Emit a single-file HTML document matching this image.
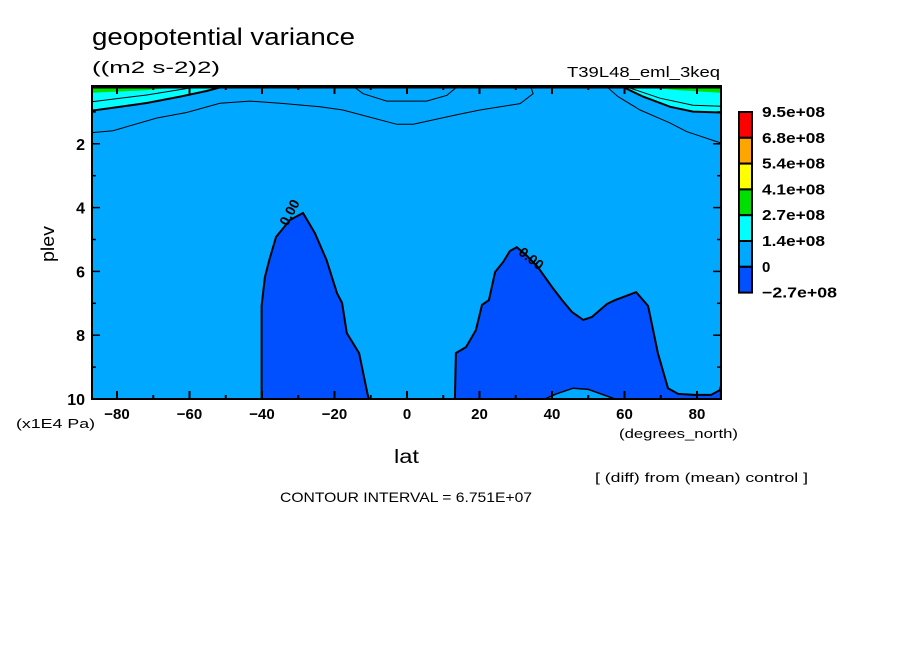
<!DOCTYPE html>
<html><head><meta charset="utf-8"><style>
body{margin:0;background:#fff;width:904px;height:654px;overflow:hidden}
svg text{font-family:"Liberation Sans",sans-serif;fill:#000}
</style></head><body>
<svg id="c" width="904" height="654" xmlns="http://www.w3.org/2000/svg">
<text x="92" y="45" font-size="24" textLength="263" lengthAdjust="spacingAndGlyphs">geopotential variance</text>
<text x="92" y="73" font-size="17" textLength="128" lengthAdjust="spacingAndGlyphs">((m2 s-2)2)</text>
<text x="567" y="77" font-size="15" textLength="153" lengthAdjust="spacingAndGlyphs">T39L48_eml_3keq</text>
<text x="0" y="0" font-size="18" textLength="36" lengthAdjust="spacingAndGlyphs" transform="translate(54,262) rotate(-90)">plev</text>
<text x="16" y="428" font-size="13" textLength="79" lengthAdjust="spacingAndGlyphs">(x1E4 Pa)</text>
<text x="394" y="463" font-size="19" textLength="25" lengthAdjust="spacingAndGlyphs">lat</text>
<text x="619" y="438" font-size="13" textLength="119" lengthAdjust="spacingAndGlyphs">(degrees_north)</text>
<text x="595" y="482" font-size="13" textLength="213" lengthAdjust="spacingAndGlyphs">[ (diff) from (mean) control ]</text>
<text x="280" y="502" font-size="14" textLength="252" lengthAdjust="spacingAndGlyphs">CONTOUR INTERVAL = 6.751E+07</text>
<g id="plot"></g>
<g id="legend"></g>
</svg>
<script>
const NS='http://www.w3.org/2000/svg';
const xTicks=[-80,-60,-40,-20,0,20,40,60,80];
const yTicks=[2,4,6,8,10];
const legendLabels=['9.5e+08','6.8e+08','5.4e+08','4.1e+08','2.7e+08','1.4e+08','0','-2.7e+08'];
const legendColors=['#ff0000','#ffa500','#ffff00','#00e000','#00ffff','#00a8ff','#0050ff'];
const cyanLeft=[[-86.9,0.19],[-50.8,0.19],[-50.8,0.21],[-55.3,0.345],[-62.6,0.52],[-71.8,0.72],[-81.1,0.87],[-86.9,0.96]];
const cyanRight=[[59.6,0.19],[86.6,0.19],[86.6,1.02],[78.9,0.99],[72.6,0.84],[65.1,0.52],[59.6,0.22]];
const greenLeft=[[-86.9,0.19],[-60,0.19],[-72,0.32],[-86.9,0.4]];
const greenRight=[[62,0.19],[86.6,0.19],[86.6,0.4],[75,0.32]];
const lineLow=[[-86.9,1.65],[-81.1,1.59],[-69.0,1.19],[-60.8,1.02],[-51.6,0.73],[-43.3,0.66],[-35.0,0.73],[-24.0,0.84],[-17.7,0.94],[-12.1,1.11],[-2.8,1.39],[1.7,1.39],[13.7,1.09],[20.1,0.94],[31.2,0.74],[34.8,0.43],[34.4,0.29],[33.9,0.19]];
const lineMid=[[-14.9,0.19],[-12.1,0.43],[-5.6,0.66],[5.4,0.66],[11.0,0.48],[13.2,0.27],[13.8,0.19]];
const lineRight=[[55.1,0.19],[55.1,0.21],[58.2,0.52],[64.3,0.94],[72.6,1.35],[77.2,1.62],[85.4,1.93],[86.6,1.97]];
const lineCyanL=[[-86.9,0.68],[-71.8,0.47],[-59.9,0.25],[-57.1,0.19]];
const lineCyanR=[[61.5,0.25],[69.8,0.57],[78.9,0.79],[86.6,0.82]];
const blobLeft=[[-40.1,10],[-40.1,9.25],[-40.1,7.08],[-39.2,6.18],[-38.0,5.64],[-36.1,4.92],[-32.3,4.39],[-28.7,4.17],[-25.4,4.80],[-22.2,5.64],[-19.3,6.68],[-17.9,6.99],[-16.6,7.93],[-13.2,8.56],[-10.7,9.94],[-10.5,10]];
const blobRight=[[13.2,10],[13.5,8.56],[16.3,8.37],[19.0,7.84],[20.7,7.05],[22.6,6.9],[24.3,6.02],[26.5,5.71],[28.4,5.36],[30.3,5.24],[33,5.5],[36,5.85],[40.0,6.49],[42.8,6.9],[45.5,7.27],[48.6,7.52],[51.0,7.43],[55.2,7.02],[57.4,6.9],[63.2,6.65],[66.5,7.08],[69.2,8.56],[72.0,9.66],[74.8,9.84],[79.2,9.87],[83.9,9.87],[86.3,9.72],[86.6,9.6],[86.6,10]];
const bump=[[38,10],[41,9.85],[45.8,9.66],[50,9.7],[57.4,10]];
const X=l=>407+l*3.625, Y=p=>399-(10-p)*31.9;
const L=92,R=721,T=86,B=399;
const plot=document.getElementById('plot');
function el(t,a,parent){const e=document.createElementNS(NS,t);for(const k in a)e.setAttribute(k,a[k]);(parent||plot).appendChild(e);return e;}
const pts=a=>a.map(d=>X(d[0]).toFixed(1)+','+Y(d[1]).toFixed(1)).join(' ');
let e;
e=el('rect',{x:L,y:T,width:R-L,height:B-T,fill:'#00a8ff'});


e=el('polygon',{points:pts(cyanLeft),fill:'#00ffff'});


e=el('polygon',{points:pts(cyanRight),fill:'#00ffff'});


e=el('polygon',{points:pts(greenLeft),fill:'#00e000'});


e=el('polygon',{points:pts(greenRight),fill:'#00e000'});


e=el('polygon',{points:pts(blobLeft),fill:'#0050ff',stroke:'#000','stroke-width':2});


e=el('polygon',{points:pts(blobRight),fill:'#0050ff',stroke:'#000','stroke-width':2});


e=el('polygon',{points:pts(bump),fill:'#00a8ff',stroke:'#000','stroke-width':1.5});


e=el('polyline',{points:pts(cyanLeft.slice(2)),fill:'none',stroke:'#000','stroke-width':2});


e=el('polyline',{points:pts(cyanRight.slice(2)),fill:'none',stroke:'#000','stroke-width':2});


[[lineLow,'contour-low'],[lineMid,'contour-mid'],[lineRight,'contour-right'],[lineCyanL,'contour-cyan-left'],[lineCyanR,'contour-cyan-right']].forEach(([a,n])=>{
  const p=el('polyline',{points:pts(a),fill:'none',stroke:'#000','stroke-width':1});
  
  
});
e=el('rect',{x:L,y:T,width:R-L,height:2.5,fill:'#000'});


e=el('text',{x:0,y:0,'font-size':14,'font-weight':'bold',transform:`translate(${X(-33)},${Y(4.6)}) rotate(-62)`});
e.textContent='0.00';


e=el('text',{x:0,y:0,'font-size':14,'font-weight':'bold',transform:`translate(${X(30.5)},${Y(5.45)}) rotate(38)`});
e.textContent='0.00';


e=el('rect',{x:L,y:T,width:R-L,height:B-T,fill:'none',stroke:'#000','stroke-width':2});


for(let l=-80;l<=80;l+=10){const x=X(l),len=l%20===0?8:4;
  el('line',{x1:x,x2:x,y1:B,y2:B-len,stroke:'#000','stroke-width':2});
  el('line',{x1:x,x2:x,y1:T,y2:T+len,stroke:'#000','stroke-width':2});}
for(let p=1;p<=10;p++){const y=Y(p),len=p%2===0?8:4;
  el('line',{x1:L,x2:L+len,y1:y,y2:y,stroke:'#000','stroke-width':1.5});
  el('line',{x1:R,x2:R-len,y1:y,y2:y,stroke:'#000','stroke-width':1.5});}
xTicks.forEach(l=>{const t=el('text',{x:X(l),y:419,'font-size':15,'text-anchor':'middle','font-weight':'bold'});t.textContent=(l<0?'\u2212':'')+Math.abs(l);
  
  });
yTicks.forEach(p=>{const t=el('text',{x:85,y:Y(p)+6,'font-size':16,'text-anchor':'end','font-weight':'bold'});t.textContent=p;
  
  });
const lg=document.getElementById('legend');
legendColors.forEach((c,i)=>{const r=el('rect',{x:739,y:112+i*25.8,width:13,height:25.8,fill:c,stroke:'#000','stroke-width':2},lg);
  
  });
legendLabels.forEach((s,i)=>{const a={x:762,y:117+i*25.8,'font-size':15,'font-weight':'bold'};
  if(s.length>1){a.textLength=s.length>7?75:63;a.lengthAdjust='spacingAndGlyphs';}
  const t=el('text',a,lg);t.textContent=s.replace('-','\u2212');
  
  });
</script>
</body></html>
